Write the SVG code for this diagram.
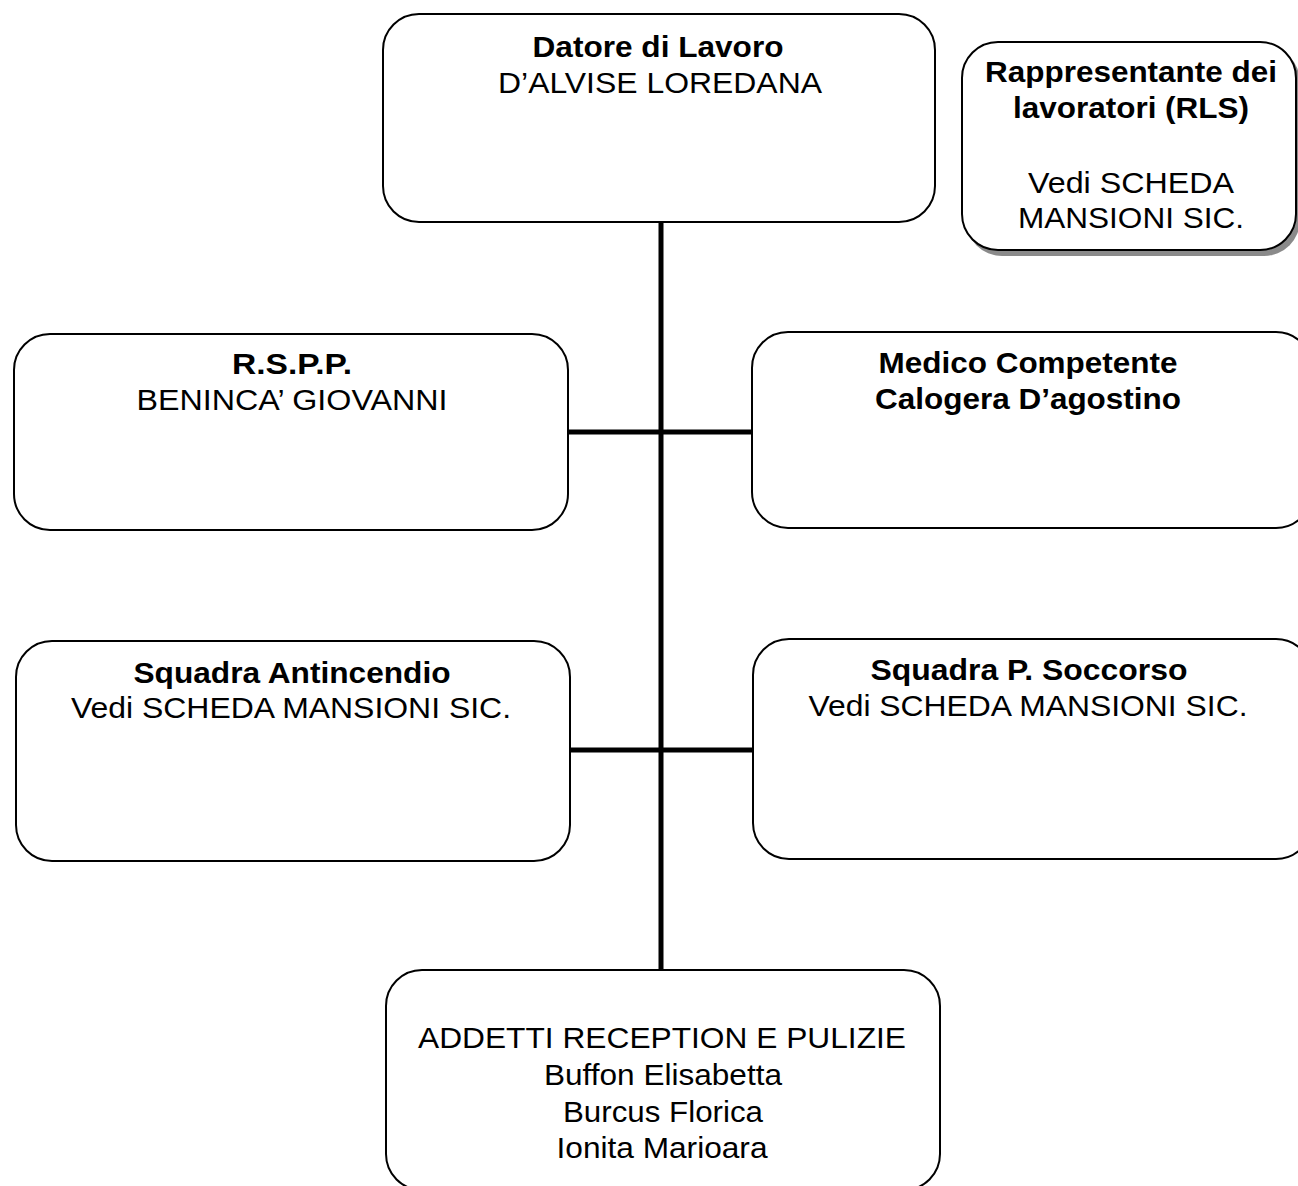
<svg xmlns="http://www.w3.org/2000/svg" width="1298" height="1186" viewBox="0 0 1298 1186">
<style>
.box{fill:#fff;stroke:#000;stroke-width:2}
.shadow{fill:#8a8a8a;stroke:none}
.conn{stroke:#000;stroke-width:5;fill:none}
text{font-family:"Liberation Sans",Arial,sans-serif;font-size:30px;fill:#000;text-anchor:middle}
.b{font-weight:bold}
</style>
<rect width="1298" height="1186" fill="#fff"/>
<g id="connectors">
<line class="conn" x1="661" y1="222" x2="661" y2="971"/>
<line class="conn" x1="568" y1="432" x2="752" y2="432"/>
<line class="conn" x1="570" y1="750" x2="753" y2="750"/>
</g>
<g id="datore">
<rect class="box" x="383" y="14" width="552" height="208" rx="36"/>
<text class="b" x="658" y="57" textLength="251" lengthAdjust="spacingAndGlyphs">Datore di Lavoro</text>
<text x="660" y="93" textLength="324" lengthAdjust="spacingAndGlyphs">D’ALVISE LOREDANA</text>
</g>
<g id="rls">
<rect class="shadow" x="966" y="46" width="334" height="210" rx="36"/>
<rect class="box" x="962" y="42" width="334" height="208" rx="36"/>
<text class="b" x="1131" y="82" textLength="292" lengthAdjust="spacingAndGlyphs">Rappresentante dei</text>
<text class="b" x="1131" y="118" textLength="236" lengthAdjust="spacingAndGlyphs">lavoratori (RLS)</text>
<text x="1131" y="193" textLength="206" lengthAdjust="spacingAndGlyphs">Vedi SCHEDA</text>
<text x="1131" y="228" textLength="226" lengthAdjust="spacingAndGlyphs">MANSIONI SIC.</text>
</g>
<g id="rspp">
<rect class="box" x="14" y="334" width="554" height="196" rx="36"/>
<text class="b" x="292" y="374" textLength="120" lengthAdjust="spacingAndGlyphs">R.S.P.P.</text>
<text x="292" y="410" textLength="311" lengthAdjust="spacingAndGlyphs">BENINCA’ GIOVANNI</text>
</g>
<g id="medico">
<rect class="box" x="752" y="332" width="560" height="196" rx="36"/>
<text class="b" x="1028" y="373" textLength="299" lengthAdjust="spacingAndGlyphs">Medico Competente</text>
<text class="b" x="1028" y="409" textLength="306" lengthAdjust="spacingAndGlyphs">Calogera D’agostino</text>
</g>
<g id="antincendio">
<rect class="box" x="16" y="641" width="554" height="220" rx="36"/>
<text class="b" x="292" y="683" textLength="317" lengthAdjust="spacingAndGlyphs">Squadra Antincendio</text>
<text x="291" y="718" textLength="440" lengthAdjust="spacingAndGlyphs">Vedi SCHEDA MANSIONI SIC.</text>
</g>
<g id="soccorso">
<rect class="box" x="753" y="639" width="559" height="220" rx="36"/>
<text class="b" x="1029" y="680" textLength="317" lengthAdjust="spacingAndGlyphs">Squadra P. Soccorso</text>
<text x="1028" y="716" textLength="439" lengthAdjust="spacingAndGlyphs">Vedi SCHEDA MANSIONI SIC.</text>
</g>
<g id="addetti">
<rect class="box" x="386" y="970" width="554" height="220" rx="36"/>
<text x="662" y="1048" textLength="488" lengthAdjust="spacingAndGlyphs">ADDETTI RECEPTION E PULIZIE</text>
<text x="663" y="1085" textLength="238" lengthAdjust="spacingAndGlyphs">Buffon Elisabetta</text>
<text x="663" y="1122" textLength="200" lengthAdjust="spacingAndGlyphs">Burcus Florica</text>
<text x="662" y="1158" textLength="211" lengthAdjust="spacingAndGlyphs">Ionita Marioara</text>
</g>
</svg>
